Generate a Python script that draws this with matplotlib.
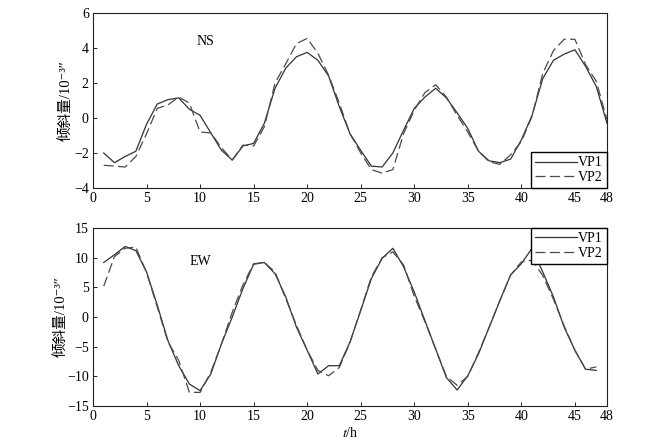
import numpy as np
import matplotlib
matplotlib.use("Agg")
import matplotlib.pyplot as plt

plt.rcParams["font.family"] = ["Liberation Serif", "Noto Sans CJK SC", "DejaVu Sans"]
plt.rcParams["mathtext.fontset"] = "stix"

# Datos: tiempo (h) y tilt NS / EW para VP1 y VP2
t_ns = np.arange(1, 49)
ns_vp1 = [-2.0, -2.55, -2.2, -1.9, -0.35, 0.8, 1.05, 1.15, 0.5, 0.15,
          -0.85, -1.85, -2.4, -1.6, -1.45, -0.3, 1.7, 2.85, 3.5, 3.75,
          3.3, 2.4, 0.65, -0.9, -1.85, -2.75, -2.8, -2.0, -0.7, 0.55,
          1.2, 1.7, 1.15, 0.3, -0.6, -1.9, -2.45, -2.55, -2.35, -1.25,
          0.15, 2.25, 3.3, 3.65, 3.9, 2.95, 1.8, -0.3]
ns_vp2 = [-2.7, -2.75, -2.8, -2.2, -0.9, 0.55, 0.75, 1.2, 0.85, -0.8,
          -0.85, -1.7, -2.4, -1.55, -1.6, -0.5, 2.0, 3.1, 4.25, 4.55,
          3.7, 2.45, 0.85, -0.9, -2.0, -2.95, -3.15, -2.95, -0.9, 0.45,
          1.45, 1.9, 1.2, 0.15, -0.8, -1.9, -2.5, -2.65, -2.1, -1.35,
          0.1, 2.55, 3.85, 4.5, 4.5, 3.05, 2.1, -0.1]

t_ew = np.arange(1, 48)
ew_vp1 = [9.2, 10.5, 11.9, 11.2, 7.6, 2.0, -4.0, -8.2, -11.3, -12.4,
          -9.6, -4.5, 0.0, 4.8, 8.9, 9.2, 7.3, 3.4, -1.7, -5.6,
          -9.6, -8.2, -8.2, -4.2, 1.1, 6.5, 9.9, 11.6, 8.5, 4.2,
          -0.6, -5.4, -10.2, -12.3, -9.9, -6.2, -1.7, 2.8, 7.1, 9.0,
          11.6, 7.6, 3.4, -1.7, -5.6, -8.8, -9.0]
ew_vp2 = [5.2, 10.2, 11.6, 11.8, 7.5, 1.7, -4.2, -7.3, -12.7, -12.7,
          -9.3, -4.5, 0.8, 5.4, 9.0, 9.2, 7.6, 3.1, -1.4, -5.6,
          -9.0, -9.9, -8.5, -4.3, 1.2, 6.8, 10.0, 11.0, 8.8, 3.5,
          -0.8, -5.4, -10.0, -11.5, -10.0, -6.0, -1.7, 2.8, 7.1, 9.3,
          9.6, 7.0, 3.0, -1.5, -5.6, -8.8, -8.4]

xticks = [0, 5, 10, 15, 20, 25, 30, 35, 40, 45, 48]
ylabel = "倾斜量/10⁻³″"

fig = plt.figure(figsize=(6.56, 4.47), dpi=100)
ax1 = fig.add_axes([0.1418, 0.5794, 0.7835, 0.3915])
ax2 = fig.add_axes([0.1418, 0.0917, 0.7835, 0.398])

col1 = "#333333"
col2 = "#4a4a4a"
dash = (8, 3.5)

# Panel NS
ax1.plot(t_ns, ns_vp1, color=col1, linewidth=0.9, label="VP1")
ax1.plot(t_ns, ns_vp2, color=col2, linewidth=0.9, dashes=dash, label="VP2")
ax1.set_xlim(0, 48)
ax1.set_ylim(-4, 6)
ax1.set_yticks([-4, -2, 0, 2, 4, 6])
ax1.text(10.5, 4.35, "NS", fontsize=10, ha="center", va="center")
ax1.legend(loc="lower right", fontsize=10, frameon=True, fancybox=False,
           edgecolor="black", framealpha=1, handlelength=3, handletextpad=0.1,
           borderpad=0.3, labelspacing=0.1, borderaxespad=0)
ax1.yaxis.set_label_coords(-0.04, 0.44)

# Panel EW
ax2.plot(t_ew, ew_vp1, color=col1, linewidth=0.9, label="VP1")
ax2.plot(t_ew, ew_vp2, color=col2, linewidth=0.9, dashes=dash, label="VP2")
ax2.set_xlim(0, 48)
ax2.set_ylim(-15, 15)
ax2.set_yticks([-15, -10, -5, 0, 5, 10, 15])
ax2.text(10, 9.4, "EW", fontsize=10, ha="center", va="center")
ax2.set_xlabel("$t$/h", fontsize=10, labelpad=2)
ax2.legend(loc="upper right", fontsize=10, frameon=True, fancybox=False,
           edgecolor="black", framealpha=1, handlelength=3, handletextpad=0.1,
           borderpad=0.3, labelspacing=0.1, borderaxespad=0)
ax2.yaxis.set_label_coords(-0.05, 0.55)

for ax in (ax1, ax2):
    ax.set_xticks(xticks)
    ax.set_ylabel(ylabel, fontsize=10.5)
    ax.tick_params(direction="in", length=3, width=0.6, labelsize=10, pad=3)
    for s in ax.spines.values():
        s.set_linewidth(0.8)
        s.set_color("#222222")

plt.savefig("out.png", dpi=100)
plt.close()
